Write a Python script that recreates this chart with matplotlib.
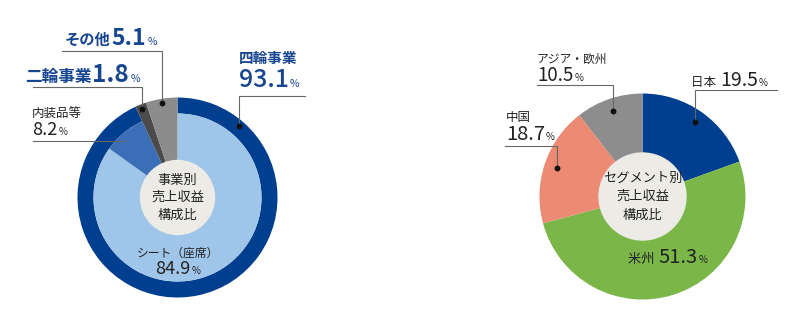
import numpy as np
import matplotlib
matplotlib.use("Agg")
import matplotlib.pyplot as plt
from matplotlib.patches import Circle

plt.rcParams['font.family'] = ['Noto Sans CJK JP', 'DejaVu Sans']

# 事業別 (外側: 四輪/二輪/その他, 内側: 四輪の内訳)
biz_labels = ["四輪事業", "二輪事業", "その他"]
biz_values = [93.1, 1.8, 5.1]
part_labels = ["シート（座席）", "内装品等"]
part_values = [84.9, 8.2]

# セグメント別
region_labels = ["日本", "米州", "中国", "アジア・欧州"]
region_values = [19.5, 51.3, 18.7, 10.5]

W, H = 800, 324
BLUE_TXT = "#17468f"
BLACK_TXT = "#222222"
LINE = "#666666"

fig = plt.figure(figsize=(W / 100, H / 100), dpi=100)
ax = fig.add_axes([0, 0, 1, 1])
renderer = fig.canvas.get_renderer()


def text_run(x, y, parts, ha="left"):
    # 文字サイズの違う文字列をベースライン揃えで横に並べる
    arts = []
    cur = x
    for s, size, weight, color in parts:
        t = ax.text(cur, y, s, fontsize=size, fontweight=weight, color=color,
                    va="baseline", ha="left")
        cur += t.get_window_extent(renderer).width + 1
        arts.append(t)
    if ha == "center":
        shift = (cur - 1 - x) / 2
        for t in arts:
            t.set_x(t.get_position()[0] - shift)


def point_at(center, r, frac):
    # 12時から時計回りに frac (0-1) の位置
    ang = np.pi / 2 - 2 * np.pi * frac
    return center[0] + r * np.cos(ang), center[1] + r * np.sin(ang)


def leader(x_end, y_line, dot, color=LINE):
    ax.plot([x_end, dot[0], dot[0]], [y_line, y_line, dot[1]], color=color, lw=0.8,
            solid_joinstyle="miter", zorder=5)
    ax.plot(dot[0], dot[1], "o", ms=3.2, color="#111111", zorder=6)


# ---- 左: 事業別 ----
c1 = (177.5, 126.5)
R1 = 100
ring = R1 * 0.16
pie_kw = dict(startangle=90, counterclock=False, center=c1)

rest = 100 - biz_values[0]
ax.pie([biz_values[0], rest], radius=R1, colors=["#003e8f", "none"],
       wedgeprops=dict(width=ring, linewidth=0), **pie_kw)
ax.pie(part_values + [rest], radius=R1 - ring, colors=["#9fc5e8", "#3a6fb7", "none"],
       wedgeprops=dict(linewidth=0), **pie_kw)
ax.pie(biz_values, radius=R1, colors=["none", "#4b4b4b", "#8c8c8c"],
       wedgeprops=dict(linewidth=0), **pie_kw)
ax.add_patch(Circle(c1, 37, color="#ecebe6", zorder=3))
for i, s in enumerate(["事業別", "売上収益", "構成比"]):
    ax.text(c1[0], c1[1] + 17.5 - 17.5 * i, s, fontsize=9.5, color=BLACK_TXT,
            ha="center", va="center", zorder=4)

cum = np.cumsum([0] + biz_values)
# 四輪事業
dot = point_at(c1, R1 * 0.945, 0.113)
leader(305, 228.3, dot)
text_run(239, 261, [(biz_labels[0], 10.5, "bold", BLUE_TXT)])
text_run(239, 237, [(f"{biz_values[0]:.1f}", 18, "medium", BLUE_TXT),
                    ("%", 7.5, "normal", BLUE_TXT)])
# 二輪事業
dot = point_at(c1, R1 * 0.955, (cum[1] + cum[2]) / 200)
leader(33, 237.3, dot)
text_run(25, 242, [(biz_labels[1], 12, "bold", BLUE_TXT),
                   (f"{biz_values[1]:.1f}", 17.5, "bold", BLUE_TXT),
                   ("%", 7.5, "normal", BLUE_TXT)])
# その他
dot = point_at(c1, R1 * 0.955, (cum[2] + cum[3]) / 200)
leader(62, 273.3, dot)
text_run(65, 279, [(biz_labels[2], 11, "bold", BLUE_TXT),
                   (f"{biz_values[2]:.1f}", 16.5, "bold", BLUE_TXT),
                   ("%", 7.5, "normal", BLUE_TXT)])
# 内装品等
ax.plot([33, 125], [183.3, 183.3], color=LINE, lw=0.8, zorder=5)
text_run(32, 206, [(part_labels[1], 9, "normal", BLACK_TXT)])
text_run(32, 189, [(f"{part_values[1]:.1f}", 13, "normal", BLACK_TXT),
                   ("%", 7, "normal", BLACK_TXT)])
# シート（座席）
text_run(c1[0], 67, [(part_labels[0], 8.5, "normal", BLACK_TXT)], ha="center")
text_run(c1[0], 50, [(f"{part_values[0]:.1f}", 13, "normal", BLACK_TXT),
                     ("%", 7, "normal", BLACK_TXT)], ha="center")

# ---- 右: セグメント別 ----
c2 = (642.5, 127.5)
R2 = 103
ax.pie(region_values, radius=R2, startangle=90, counterclock=False, center=c2,
       colors=["#003f8f", "#7ab648", "#ec8a74", "#8d8d8d"], wedgeprops=dict(linewidth=0))
ax.add_patch(Circle(c2, 43.5, color="#ecebe6", zorder=3))
for i, s in enumerate(["セグメント別", "売上収益", "構成比"]):
    ax.text(c2[0], c2[1] + 18.5 - 18.5 * i, s, fontsize=9.5, color=BLACK_TXT,
            ha="center", va="center", zorder=4)

cum = np.cumsum([0] + region_values)
mid = [(cum[i] + cum[i + 1]) / 200 for i in range(len(region_values))]
# 日本
leader(777, 234, point_at(c2, R2 * 0.88, mid[0]))
text_run(691, 238, [(region_labels[0] + " ", 9, "normal", BLACK_TXT),
                    (f"{region_values[0]:.1f}", 14, "normal", BLACK_TXT),
                    ("%", 7, "normal", BLACK_TXT)])
# 米州
text_run(628, 61, [(region_labels[1] + " ", 9.5, "normal", BLACK_TXT),
                   (f"{region_values[1]:.1f}", 14.5, "normal", BLACK_TXT),
                   ("%", 7, "normal", BLACK_TXT)])
# 中国
leader(505, 178.3, point_at(c2, R2 * 0.88, mid[2]))
text_run(506, 203, [(region_labels[2], 9, "normal", BLACK_TXT)])
text_run(506, 184, [(f"{region_values[2]:.1f}", 14.5, "normal", BLACK_TXT),
                    ("%", 7, "normal", BLACK_TXT)])
# アジア・欧州
leader(537, 239, point_at(c2, R2 * 0.88, mid[3]))
text_run(537, 261, [(region_labels[3], 8.5, "normal", BLACK_TXT)])
text_run(537, 243, [(f"{region_values[3]:.1f}", 13.5, "normal", BLACK_TXT),
                    ("%", 7, "normal", BLACK_TXT)])

ax.set_xlim(0, W)
ax.set_ylim(0, H)
ax.set_aspect("auto")
ax.axis("off")
fig.savefig("out.png", dpi=100, facecolor="white")
